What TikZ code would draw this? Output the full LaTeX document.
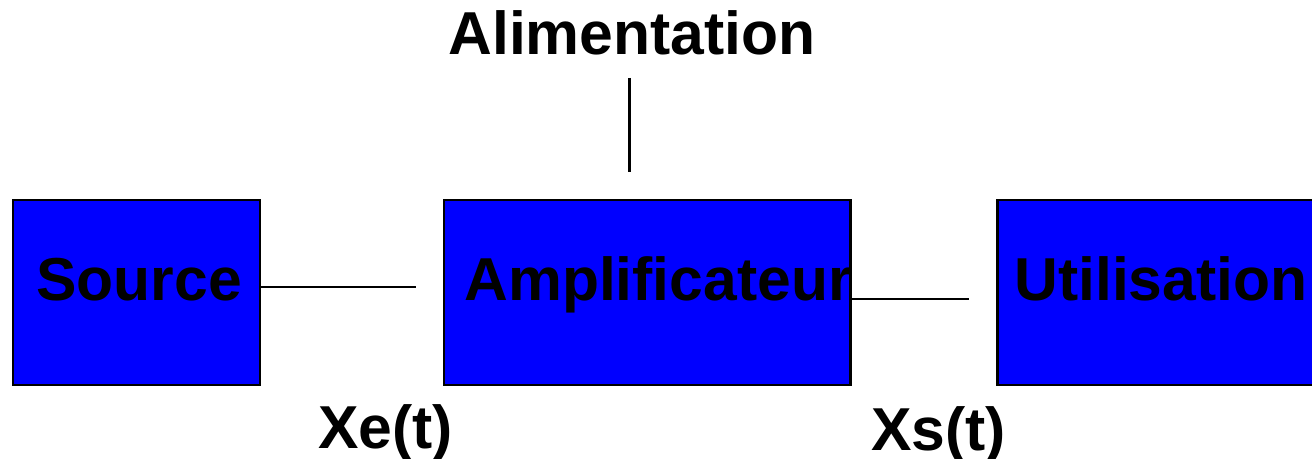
\documentclass[tikz,border=0pt]{standalone}
\usepackage{fontspec}
\setmainfont{Liberation Sans}
\usetikzlibrary{positioning}
\tikzset{
  bloc/.style={draw=black, line width=1.7pt, fill=blue, inner sep=0pt},
  titre/.style={font=\fontsize{34.5}{40}\selectfont\bfseries, inner sep=0pt, anchor=base west}
}
\begin{document}
\begin{tikzpicture}[x=0.02cm,y=-0.02cm]
  \clip (0,0) rectangle (1312,459);
  \node[bloc, minimum width={247*0.02cm}, minimum height={185*0.02cm}] (source) at (136.5,292.5) {};
  \node[bloc, minimum width={406*0.02cm}, minimum height={185*0.02cm}] (ampli) at (647,292.5) {};
  \node[bloc, minimum width={333*0.02cm}, minimum height={185*0.02cm}] (util) at (1163.5,292.5) {};
  \node[titre] (tsource) at (36,300) {Source};
  \node[titre] (tampli) at (464,300) {Amplificateur};
  \node[titre] (tutil) at (1014,300) {Utilisation};
  \node[titre, anchor=base] (alim) at (632,55) {Alimentation};
  \node[titre] (xe) at (318,448) {Xe(t)};
  \node[titre] (xs) at (871,450) {Xs(t)};
  \coordinate (fe) at (416,287);
  \coordinate (fs) at (969,299);
  \coordinate (fa) at (629,172);
  \draw[line width=1.7pt] (source.east |- fe) -- (fe);
  \draw[line width=1.7pt] (ampli.east |- fs) -- (fs);
  \draw[line width=1.7pt] (fa |- 0,78) -- (fa);
\end{tikzpicture}
\end{document}
